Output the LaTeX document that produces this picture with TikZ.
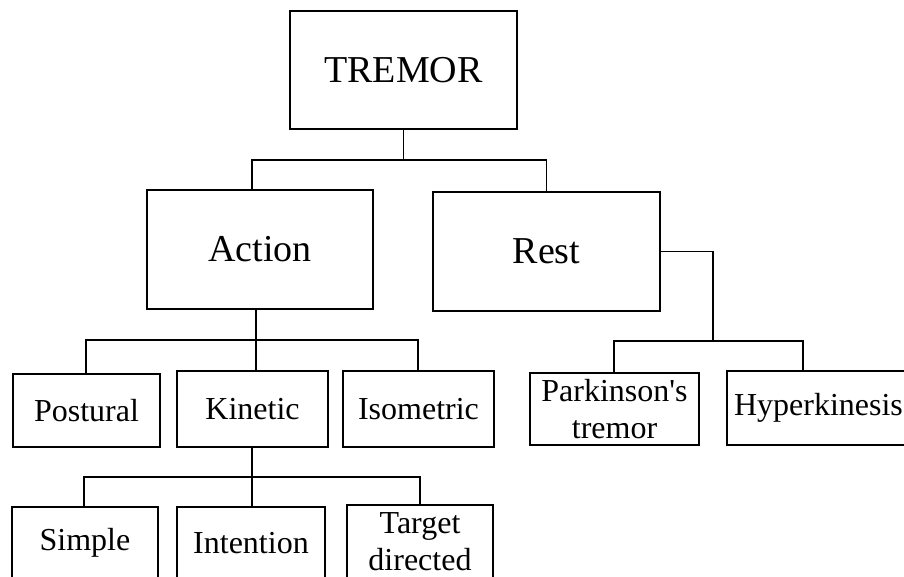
\documentclass[tikz,border=0pt]{standalone}
\usepackage{fontspec}
\setmainfont{Liberation Serif}
\begin{document}
\begin{tikzpicture}[x=1pt,y=-1pt,
  box/.style={draw, line width=1.5pt, rectangle, inner sep=0pt, align=center},
  big/.style={box, font=\fontsize{38}{41}\selectfont},
  small/.style={box, font=\fontsize{32}{37}\selectfont},
  link/.style={line width=1.5pt}]
\useasboundingbox (0,0) rectangle (904,576);
\clip (0,0) rectangle (904,576);
\fill[white] (0,0) rectangle (904,576);
% nodes
\node[big, minimum width=227pt, minimum height=118pt] (T) at (403.5,70) {TREMOR};
\node[big, minimum width=226pt, minimum height=119pt] (A) at (260,249.5) {Action};
\node[big, minimum width=227pt, minimum height=119pt] (R) at (546.5,251.5) {Rest};
\node[small, minimum width=147pt, minimum height=73pt] (P) at (86.5,410.5) {Postural};
\node[small, minimum width=151pt, minimum height=76pt] (K) at (252.5,409) {Kinetic};
\node[small, minimum width=151pt, minimum height=76pt] (I) at (418.5,409) {Isometric};
\node[small, minimum width=169pt, minimum height=72pt] (PT) at (614.5,409) {Parkinson\textquotesingle s\\tremor};
\node[small, minimum width=183pt, minimum height=74pt] (H) at (818.5,408) {Hyperkinesis};
\node[small, minimum width=146pt, minimum height=72pt] (S) at (85,543) {Simple};
\node[small, minimum width=148pt, minimum height=72pt] (In) at (251,543) {Intention};
\node[small, minimum width=146pt, minimum height=74pt] (TD) at (420,542) {Target\\directed};
% junction coordinates
\coordinate (j1) at (403.5,160);
\coordinate (j2) at (256,340);
\coordinate (j3) at (252,477);
\coordinate (j4) at (713,341);
% TREMOR -> Action, Rest
\draw[link] (T.south) -- (j1);
\draw[link] (A.north -| 252,0) |- (j1) -| (R.north);
% Action -> Postural, Kinetic, Isometric
\draw[link] (A.south -| j2) -- (K.north -| j2);
\draw[link] (P.north -| 86,0) |- (j2) -| (I.north -| 418,0);
% Kinetic -> Simple, Intention, Target directed
\draw[link] (K.south -| j3) -- (In.north -| j3);
\draw[link] (S.north -| 84,0) |- (j3) -| (TD.north -| 420,0);
% Rest -> Parkinson's, Hyperkinesis
\draw[link] (R.east) -| (j4);
\draw[link] (PT.north -| 614,0) |- (j4) -| (H.north -| 803,0);
\end{tikzpicture}
\end{document}
